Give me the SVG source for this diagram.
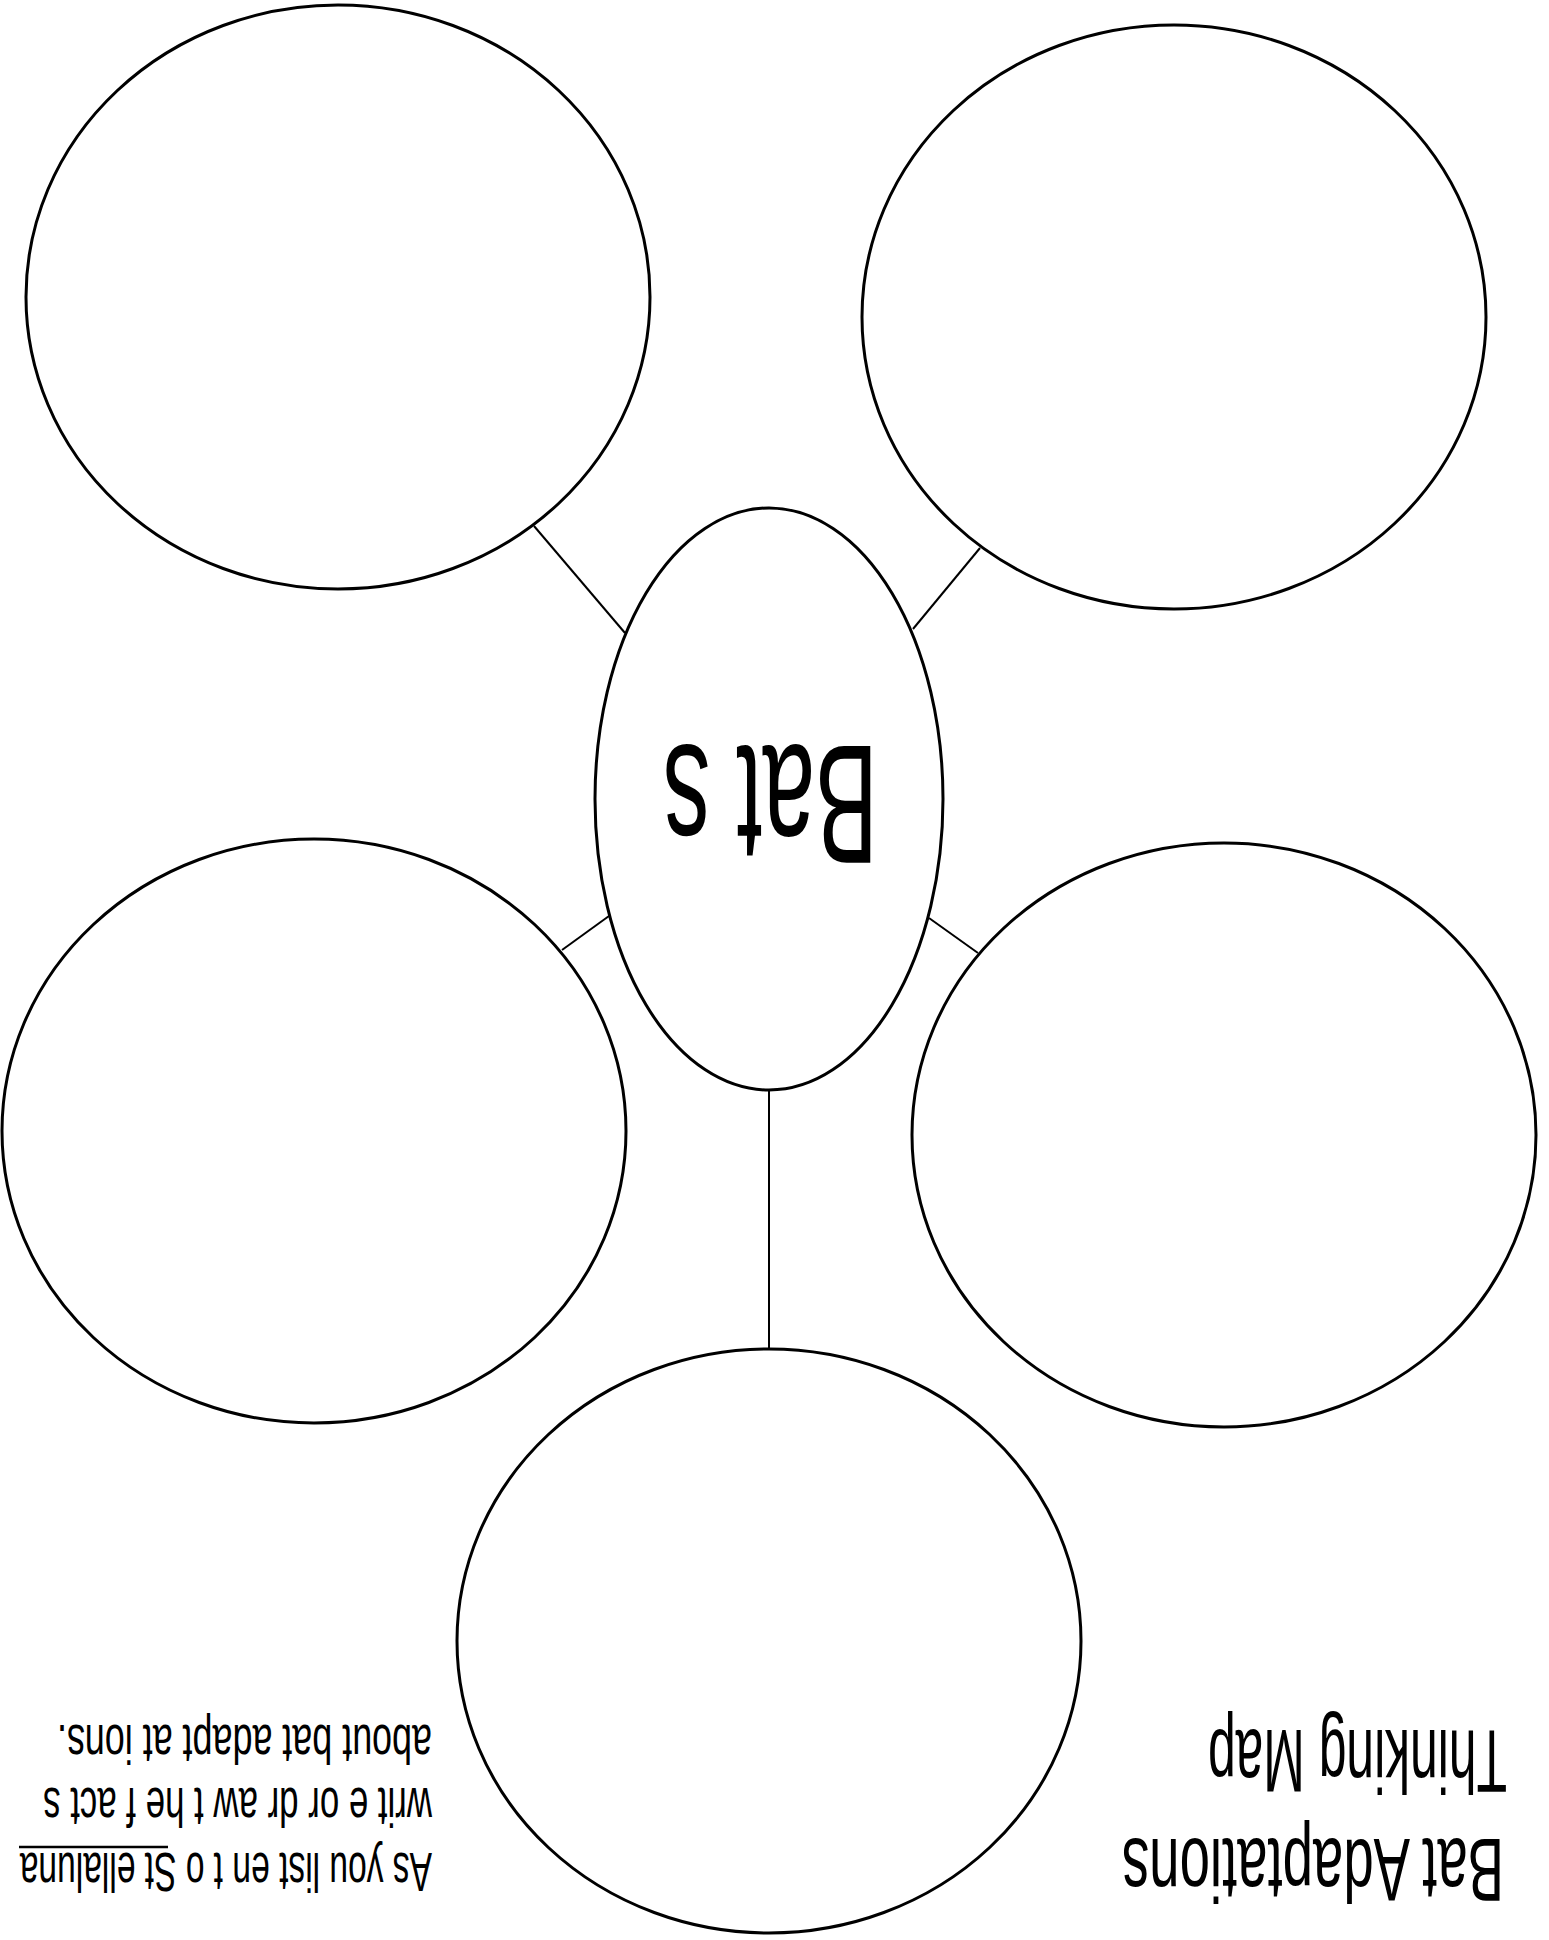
<svg xmlns="http://www.w3.org/2000/svg" width="1549" height="1940" viewBox="0 0 1549 1940">
<style>
.node{fill:#fff;stroke:#000;stroke-width:3}
.conn{stroke:#000;stroke-width:2;fill:none}
.t{font-family:"Liberation Sans",Arial,sans-serif;fill:#000}
</style>
<rect width="1549" height="1940" fill="#fff"/>
<g id="connectors">
<line class="conn" x1="534" y1="526" x2="625" y2="633"/>
<line class="conn" x1="980" y1="548" x2="913" y2="629"/>
<line class="conn" x1="562" y1="950" x2="609" y2="916"/>
<line class="conn" x1="929" y1="918" x2="978" y2="953"/>
<line class="conn" x1="769" y1="1090" x2="769" y2="1349"/>
</g>
<g id="node-top-left"><ellipse class="node" cx="338" cy="297" rx="312" ry="292"/></g>
<g id="node-top-right"><ellipse class="node" cx="1174" cy="317" rx="312" ry="292"/></g>
<g id="node-mid-left"><ellipse class="node" cx="314" cy="1131" rx="312" ry="292"/></g>
<g id="node-mid-right"><ellipse class="node" cx="1224" cy="1135" rx="312" ry="292"/></g>
<g id="node-bottom"><ellipse class="node" cx="769" cy="1641" rx="312" ry="292"/></g>
<g id="node-center">
<ellipse class="node" cx="769" cy="799" rx="174" ry="291"/>
<text class="t" x="0" y="0" font-size="168" transform="translate(878 746) rotate(180) scale(0.56 1)" textLength="384" lengthAdjust="spacingAndGlyphs">Bat s</text>
</g>
<g id="title">
<text class="t" x="0" y="0" font-size="89" transform="translate(1504 1839) rotate(180) scale(0.585 1)" textLength="653" lengthAdjust="spacingAndGlyphs">Bat  Adaptations</text>
<text class="t" x="0" y="0" font-size="89" transform="translate(1507 1730) rotate(180) scale(0.56 1)" textLength="534" lengthAdjust="spacingAndGlyphs">Thinking Map</text>
</g>
<g id="instructions">
<text class="t" x="0" y="0" font-size="56" transform="translate(432 1853) rotate(180) scale(0.6 1)" textLength="687" lengthAdjust="spacingAndGlyphs">As you list en t o St ellaluna</text>
<text class="t" x="0" y="0" font-size="56" transform="translate(432 1788) rotate(180) scale(0.6 1)" textLength="648" lengthAdjust="spacingAndGlyphs">writ e or  dr aw t he f act s</text>
<text class="t" x="0" y="0" font-size="56" transform="translate(432 1725) rotate(180) scale(0.6 1)" textLength="625" lengthAdjust="spacingAndGlyphs">about  bat  adapt at ions.</text>
<line x1="19" y1="1847" x2="168" y2="1847" stroke="#000" stroke-width="2.5"/>
</g>
</svg>
